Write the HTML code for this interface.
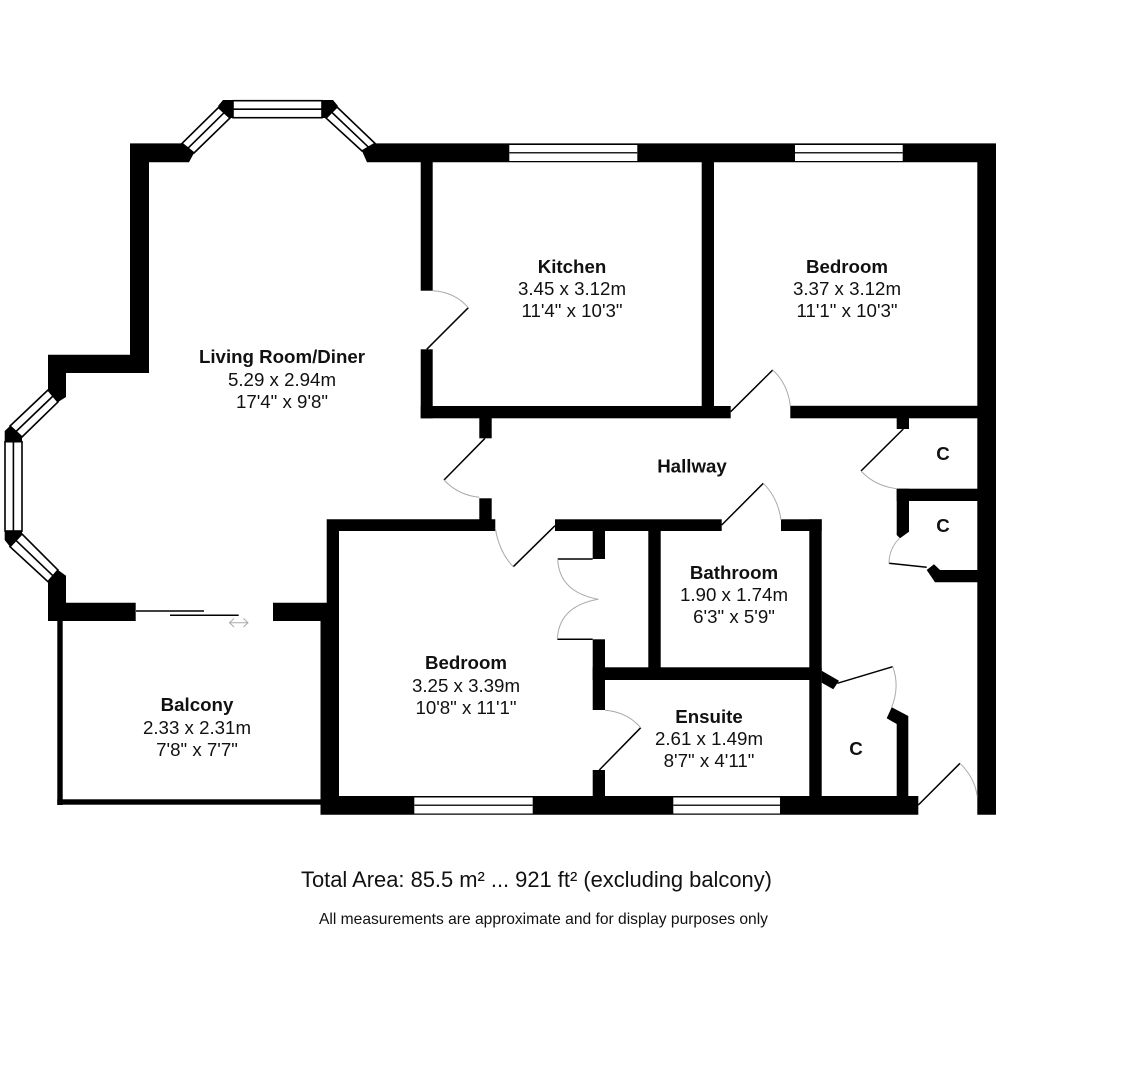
<!DOCTYPE html>
<html>
<head>
<meta charset="utf-8">
<title>Floor plan</title>
<style>
html,body{margin:0;padding:0;background:#fff}
svg{display:block}
text{font-family:"Liberation Sans",sans-serif;text-anchor:middle;fill:#111}
.b{font-weight:bold;font-size:18.7px}
.r{font-size:18.7px}
.c{font-weight:bold;font-size:18.7px}
</style>
</head>
<body>
<svg width="1136" height="1080" viewBox="0 0 1136 1080" xmlns="http://www.w3.org/2000/svg">
<rect width="1136" height="1080" fill="#fff"/>

<!-- Walls -->
<g fill="#000">
<!-- upper left wall -->
<polygon points="48,354.7 130,354.7 130,143.4 182,143.4 194,153 189,162.3 149,162.3 149,373 66,373 66,397 58,402 48,390"/>
<!-- lower left wall -->
<polygon points="58,570 66,575.7 66,602.7 135.7,602.7 135.7,621 48,621 48,581.7"/>
<!-- top wall -->
<polygon points="375,143.4 996,143.4 996,814.7 977.3,814.7 977.3,162.3 367,162.3 362,151"/>
<!-- balcony stub and bedroom west wall -->
<polygon points="273,602.7 326.7,602.7 326.7,519.3 495.3,519.3 495.3,531 339,531 339,796 918.3,796 918.3,814.7 320.5,814.7 320.5,621 273,621"/>
<!-- balcony thin wall -->
<rect x="57.3" y="621" width="5.4" height="184"/>
<rect x="57.3" y="799.3" width="264" height="5.4"/>
<!-- kitchen wall -->
<rect x="420.7" y="162" width="12" height="128.7"/>
<rect x="420.7" y="349.3" width="12" height="69"/>
<rect x="420.7" y="406" width="310" height="12.3"/>
<rect x="701.7" y="162" width="12.3" height="250"/>
<rect x="790.3" y="405.8" width="190" height="12.5"/>
<!-- hallway stubs -->
<rect x="479.3" y="418" width="12.4" height="20.3"/>
<rect x="479.3" y="498.3" width="12.4" height="22"/>
<!-- bathroom wall -->
<rect x="555" y="519.3" width="166.7" height="11.7"/>
<rect x="781" y="519.3" width="40.7" height="11.7"/>
<rect x="809.3" y="519.3" width="12.4" height="280"/>
<rect x="648.3" y="525" width="12.4" height="145"/>
<rect x="592.7" y="525" width="12.3" height="34"/>
<rect x="592.7" y="639.3" width="12.3" height="70.7"/>
<rect x="592.7" y="770" width="12.3" height="30"/>
<rect x="592.7" y="667.3" width="229" height="12.7"/>
<!-- angled cupboard stubs -->
<polygon points="821.7,670.7 839,680.7 833.3,689.3 821.7,682.7"/>
<polygon points="891.7,707.3 908.3,716 908.3,800 896.7,800 896.7,724 886.7,718.3"/>
<!-- cupboards C -->
<rect x="896.7" y="415" width="12.3" height="14"/>
<rect x="896.7" y="488.7" width="84" height="12.3"/>
<polygon points="896.7,488.7 909,488.7 909,531.7 900,538.3 896.7,535"/>
<polygon points="926.7,570 934,564.3 940,570 980,570 980,582.3 935,582.3"/>
</g>

<!-- Windows -->
<g fill="#fff" stroke="#000" stroke-width="1.6">
<polygon points="182,143.4 218.5,107.5 230,118 194,153"/>
<polygon points="337,107 375,143.4 362,151 326,118"/>
<polygon points="48,390 10,426 22,437 58,402"/>
<polygon points="10,546.7 22,534 58,570 48,581.7"/>
</g>
<g fill="#fff" stroke="#000" stroke-width="1.6">
<rect x="233" y="100.7" width="89" height="17"/>
<rect x="5" y="441.7" width="17" height="89.3"/>
</g>
<g stroke="#000" stroke-width="1.6" fill="none">
<line x1="188" y1="148.2" x2="224.2" y2="112.6"/>
<line x1="332" y1="112.5" x2="368.5" y2="147.2"/>
<line x1="53" y1="396" x2="16" y2="431.5"/>
<line x1="16" y1="540.4" x2="53" y2="575.8"/>
<line x1="233" y1="109.2" x2="322" y2="109.2"/>
<line x1="13.4" y1="441.7" x2="13.4" y2="531"/>
</g>
<!-- bay pillars -->
<g fill="#000">
<polygon points="223,100 233,100 233,118 230,118 218,106"/>
<polygon points="322,100 333,100 338,106 325,118 322,118"/>
<polygon points="10,426 22,437 22,441.7 4.7,441.7 4.7,431"/>
<polygon points="4.7,531 22,531 22,534 10,546.7 4.7,540"/>
</g>
<g fill="#fff">
<rect x="509.3" y="145" width="128" height="16"/>
<rect x="795" y="145" width="107.7" height="16"/>
<rect x="414.3" y="797.5" width="118.4" height="16"/>
<rect x="673.3" y="797.5" width="106.7" height="16"/>
</g>
<g fill="#222">
<rect x="509.3" y="152" width="128" height="1.5"/>
<rect x="795" y="152" width="107.7" height="1.5"/>
<rect x="414.3" y="804.5" width="118.4" height="1.5"/>
<rect x="673.3" y="804.5" width="106.7" height="1.5"/>
</g>

<!-- Door leaves -->
<g stroke="#000" stroke-width="1.5" fill="none">
<line x1="426.7" y1="349.3" x2="468.3" y2="307.7"/>
<line x1="730.7" y1="411.7" x2="772.7" y2="370"/>
<line x1="485" y1="438.3" x2="444" y2="480"/>
<line x1="513.3" y1="566.7" x2="555" y2="525.7"/>
<line x1="721.7" y1="525" x2="763.3" y2="483.3"/>
<line x1="903.3" y1="429" x2="861" y2="471"/>
<line x1="889" y1="563.3" x2="926.7" y2="567.3"/>
<line x1="837.3" y1="683.3" x2="892.7" y2="666.7"/>
<line x1="918.3" y1="805" x2="960" y2="763.3"/>
<line x1="599.3" y1="770" x2="640.7" y2="727.7"/>
<line x1="557.7" y1="559" x2="592.7" y2="559"/>
<line x1="557.3" y1="639.3" x2="592.7" y2="639.3"/>
<!-- sliding door -->
<line x1="136" y1="611" x2="204" y2="611"/>
<line x1="170" y1="615.3" x2="238.7" y2="615.3"/>
</g>

<!-- Door swings -->
<g stroke="#aaa" stroke-width="1" fill="none">
<path d="M432.7,290.7 Q455,292 468.3,307.7"/>
<path d="M772.7,370 Q788,384 790.3,406"/>
<path d="M444,480 Q458,495 479.3,497.3"/>
<path d="M495.3,528 Q499,552 513.3,566.7"/>
<path d="M763.3,483.3 Q778,498 781,520"/>
<path d="M861,471 Q875,486 896.7,488.7"/>
<path d="M899.3,538.3 Q889,549 889,563.3"/>
<path d="M892.7,666.7 Q900,686 891.7,707.3"/>
<path d="M960,763.3 Q975,778 977.3,796.7"/>
<path d="M605,710.3 Q627,712 640.7,727.7"/>
<path d="M557.7,559 Q559,592 598.3,599.3"/>
<path d="M598.3,599.3 Q559,606 557.3,639.3"/>
<!-- sliding arrow -->
<path d="M229.5,622.7 H248 M234,618.5 L229.5,622.7 L234,627 M243.5,618.5 L248,622.7 L243.5,627"/>
</g>

<!-- Labels -->
<text class="b" x="282" y="363">Living Room/Diner</text>
<text class="r" x="282" y="386">5.29 x 2.94m</text>
<text class="r" x="282" y="408">17'4" x 9'8"</text>

<text class="b" x="572" y="273">Kitchen</text>
<text class="r" x="572" y="295">3.45 x 3.12m</text>
<text class="r" x="572" y="317">11'4" x 10'3"</text>

<text class="b" x="847" y="273">Bedroom</text>
<text class="r" x="847" y="295">3.37 x 3.12m</text>
<text class="r" x="847" y="317">11'1" x 10'3"</text>

<text class="b" x="692" y="472.5">Hallway</text>
<text class="c" x="943" y="460">C</text>
<text class="c" x="943" y="532">C</text>
<text class="c" x="856" y="755">C</text>

<text class="b" x="734" y="579">Bathroom</text>
<text class="r" x="734" y="601">1.90 x 1.74m</text>
<text class="r" x="734" y="623">6'3" x 5'9"</text>

<text class="b" x="466" y="669">Bedroom</text>
<text class="r" x="466" y="692">3.25 x 3.39m</text>
<text class="r" x="466" y="714">10'8" x 11'1"</text>

<text class="b" x="709" y="723">Ensuite</text>
<text class="r" x="709" y="745">2.61 x 1.49m</text>
<text class="r" x="709" y="767">8'7" x 4'11"</text>

<text class="b" x="197" y="711">Balcony</text>
<text class="r" x="197" y="734">2.33 x 2.31m</text>
<text class="r" x="197" y="756">7'8" x 7'7"</text>

<text x="536.5" y="887" style="font-size:21.9px">Total Area: 85.5 m² ... 921 ft² (excluding balcony)</text>
<text x="543.5" y="924" style="font-size:15.6px">All measurements are approximate and for display purposes only</text>
</svg>
</body>
</html>
